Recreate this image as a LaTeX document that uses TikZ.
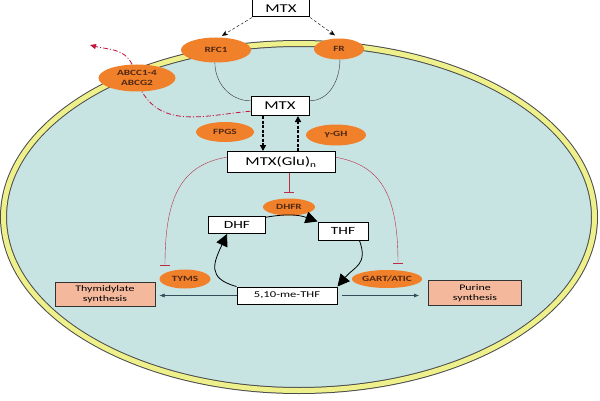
\documentclass[tikz,border=0pt]{standalone}
\usepackage{xcolor}
\usepackage{tikz}
\usetikzlibrary{shapes, arrows.meta, positioning, calc}
\usepackage{fontspec}
\setmainfont{Carlito}[FakeStretch=1.4]

\definecolor{cellfill}{RGB}{199,228,226}
\definecolor{membrane}{RGB}{238,240,140}
\definecolor{membraneline}{RGB}{75,75,75}
\definecolor{enzymeorange}{RGB}{240,128,42}
\definecolor{enzymetext}{RGB}{80,40,20}
\definecolor{product}{RGB}{244,184,156}
\definecolor{inhibred}{RGB}{185,45,70}
\definecolor{effluxred}{RGB}{196,20,60}
\definecolor{flow}{RGB}{50,78,90}

\begin{document}
\begin{tikzpicture}[
    x=1pt, y=1pt,
    molecule/.style={
        draw, fill=white, line width=1pt, inner sep=1pt,
        minimum width=#1, font=\fontsize{12}{14}\selectfont
    },
    enzyme/.style={
        ellipse, fill=enzymeorange, inner sep=0pt, minimum width=#1,
        text=enzymetext, align=center, font=\fontsize{8}{9.5}\selectfont\bfseries
    },
    product/.style={
        draw=black!80, line width=1pt, fill=product, minimum width=#1,
        minimum height=24pt, align=center, font=\fontsize{8.5}{10}\selectfont
    },
    uptake/.style={-{Stealth[length=6pt, width=5pt]}, densely dashed, thin},
    transport/.style={black!80, thin},
    efflux/.style={effluxred, thick, dash pattern=on 5pt off 2pt on 1pt off 2pt},
    polyglu/.style={-{Triangle[length=6pt, width=6pt]}, line width=1.6pt,
        dash pattern=on 3pt off 1.5pt},
    inhib/.style={inhibred, thin, -{Bar[width=10pt]}},
    cyc/.style={-{Triangle[length=12pt, width=12pt]}, thick},
    syn/.style={flow, thin, -{Latex[length=5pt, width=4pt]}}
]

\useasboundingbox (0, 0) rectangle (600, 400);
\fill[white] (0, 0) rectangle (600, 400);

% Cell and membrane
\draw[membraneline, line width=7pt, fill=cellfill] (299, 183) ellipse [x radius=295.5, y radius=173.5];
\draw[membrane, line width=5pt] (299, 183) ellipse [x radius=295.5, y radius=173.5];

% Molecules
\node[molecule=57pt, minimum height=17pt] (mtxout) at (281, 391.5) {MTX};
\node[molecule=58pt, minimum height=19pt] (mtxin) at (280, 294) {MTX};
\node[molecule=108pt, minimum height=21pt] (glu) at (281, 238) {MTX(Glu)\textsubscript{n}};
\node[molecule=57pt, minimum height=17pt, font=\fontsize{11}{13}\selectfont] (dhf) at (237, 175) {DHF};
\node[molecule=50pt, minimum height=18pt, font=\fontsize{11}{13}\selectfont] (thf) at (343, 169) {THF};
\node[molecule=100pt, minimum height=17pt, font=\fontsize{9}{11}\selectfont] (me) at (287, 104.5) {5,10-me-THF};

% Enzymes and transporters
\node[enzyme=70pt, minimum height=25pt] (rfc) at (216, 350) {RFC1};
\node[enzyme=50pt, minimum height=21pt] (fr) at (339, 351) {FR};
\node[enzyme=77pt, minimum height=27pt] (abcc) at (137, 322) {ABCC1-4\\ABCG2};
\node[enzyme=58pt, minimum height=20pt] (fpgs) at (225, 268) {FPGS};
\node[enzyme=60pt, minimum height=21pt] (ggh) at (336, 265) {γ-GH};
\node[enzyme=52pt, minimum height=17pt] (dhfr) at (289, 193) {DHFR};
\node[enzyme=51pt, minimum height=19pt] (tyms) at (185, 121) {TYMS};
\node[enzyme=64pt, minimum height=18pt] (gart) at (387, 121) {GART/ATIC};

% Products
\node[product=100pt] (thym) at (105, 106) {Thymidylate\\synthesis};
\node[product=93pt, minimum height=25pt] (purine) at (475, 107) {Purine\\synthesis};

\coordinate (exit) at (90, 355);
\coordinate (tymsbar) at (165, 135);
\coordinate (gartbar) at (398, 137);

% Uptake
\draw[uptake, shorten >=3pt] (mtxout.south west) -- (rfc.75);
\draw[uptake, shorten >=5pt] (mtxout.south east) -- (fr.north);
\draw[transport] (rfc.265) to[out=-90, in=180] (mtxin.170);
\draw[transport] (fr.275) to[out=-90, in=0] (mtxin.10);

% Efflux
\draw[efflux] (mtxin.190) to[out=185, in=-60] (abcc.-70);
\draw[efflux, -{Triangle[length=6pt, width=5pt]}] (abcc.110) to[out=115, in=-15] (exit);

% Polyglutamation
\draw[polyglu] ([xshift=-17pt]mtxin.south) -- ([xshift=-18pt]glu.north);
\draw[polyglu] ([xshift=17pt]glu.north) -- ([xshift=18pt]mtxin.south);

% Inhibition
\draw[inhib] (glu.175) .. controls +(190:45) and +(90:70) .. (tymsbar);
\draw[inhib] (glu.5) .. controls +(-10:45) and +(90:70) .. (gartbar);
\draw[inhib, shorten >=6pt] (glu.south -| dhfr.north) -- (dhfr.north);

% Folate cycle
\draw[cyc] (dhf.15) to[out=10, in=160] (thf.north west);
\draw[cyc] (thf.-30) to[out=-70, in=50, looseness=1.3] (me.north east);
\draw[cyc] (me.north west) to[out=165, in=-115, looseness=1.5] ([xshift=-10pt]dhf.south);

% Synthesis
\draw[syn, shorten >=4pt] (me.west) -- (me.west -| thym.east);
\draw[syn, shorten <=4pt, shorten >=9pt] (me.east) -- (me.east -| purine.west);

\end{tikzpicture}
\end{document}
